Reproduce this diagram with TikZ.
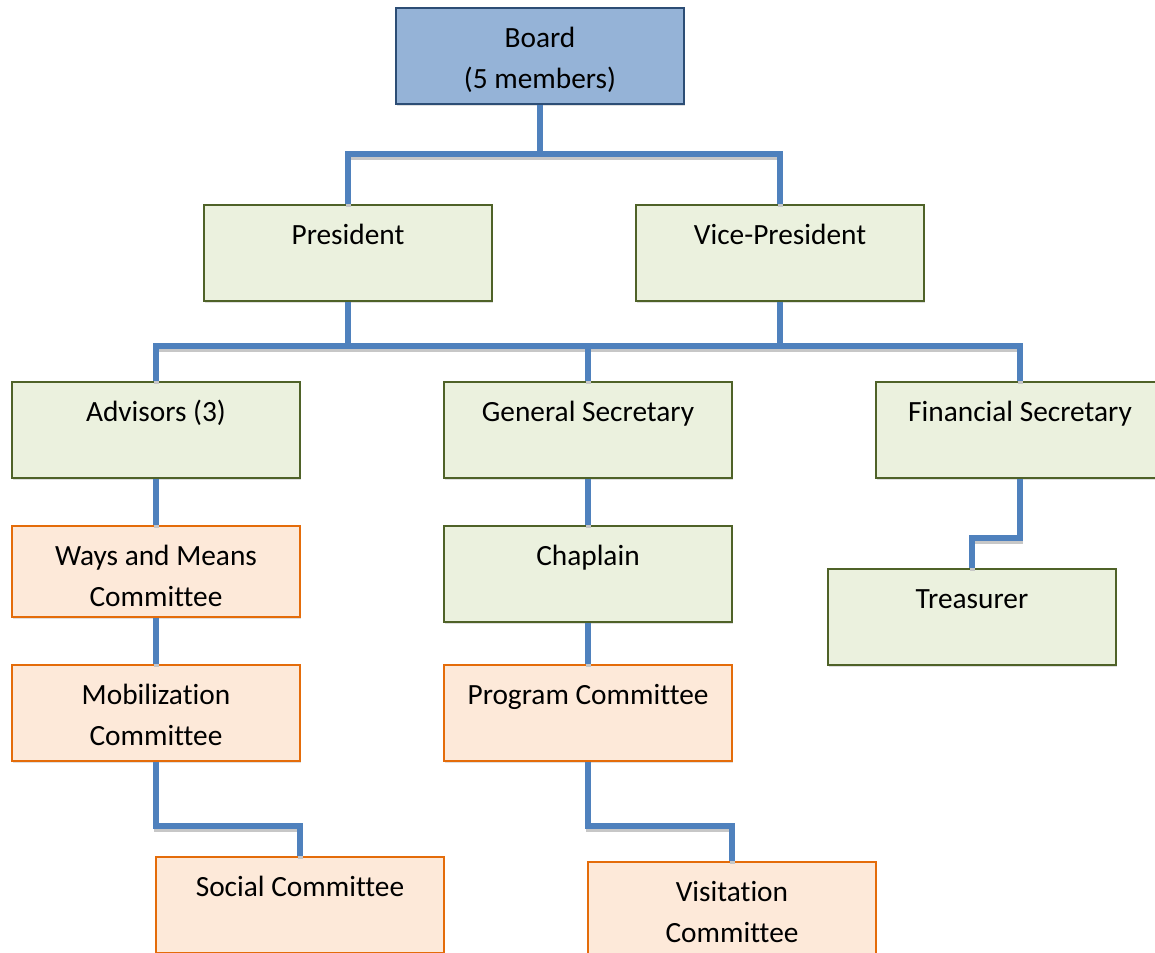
\documentclass[tikz,border=0pt]{standalone}
\usepackage{fontspec}
\setmainfont[Ligatures=NoCommon]{Carlito}
\usetikzlibrary{positioning,calc,shadows}

\definecolor{lineblue}{HTML}{4F81BD}
\definecolor{boardfill}{HTML}{95B3D7}
\definecolor{boarddraw}{HTML}{2C4D75}
\definecolor{greenfill}{HTML}{EBF1DE}
\definecolor{greendraw}{HTML}{4F6228}
\definecolor{orangefill}{HTML}{FDE9D9}
\definecolor{orangedraw}{HTML}{E46C0A}

\begin{document}
\begin{tikzpicture}[
    orgbox/.style={
        rectangle,
        line width=1.1pt,
        minimum width=5.76cm,
        minimum height=1.92cm,
        inner sep=0pt,
        align=center,
        font=\fontsize{16.7pt}{23.8pt}\selectfont,
        text height=22.1pt,
        text depth=32.3pt,
        drop shadow={shadow xshift=0.6pt, shadow yshift=-1.2pt, opacity=0.25}
    },
    twolines/.style={text height=45.9pt, text depth=8.5pt},
    boardbox/.style={orgbox, fill=boardfill, draw=boarddraw},
    officebox/.style={orgbox, fill=greenfill, draw=greendraw},
    commbox/.style={orgbox, fill=orangefill, draw=orangedraw},
    conn/.style={
        draw=lineblue,
        line width=3pt,
        preaction={draw=black!22, line width=3pt,
            transform canvas={shift={(0.4pt,-1.7pt)}}}
    }
]
    \useasboundingbox (0,0) rectangle (23.1,-19.06);

    % --- TOP ---
    \node[boardbox, twolines] (board) at (10.8,-1.12) {Board\\(5 members)};
    \node[officebox] (pres) at (6.96,-5.06) {President};
    \node[officebox] (vp) at (15.6,-5.06) {Vice-President};

    % --- SECOND ROW ---
    \node[officebox] (adv) at (3.12,-8.6) {Advisors (3)};
    \node[officebox] (gensec) at (11.76,-8.6) {General Secretary};
    \node[officebox] (finsec) at (20.4,-8.6) {Financial Secretary};

    % --- LEFT COLUMN ---
    \node[commbox, twolines, minimum height=1.82cm, text depth=5.7pt] (ways) at (3.12,-11.43) {Ways and Means\\Committee};
    \node[commbox, twolines] (mobil) at (3.12,-14.26) {Mobilization\\Committee};
    \node[commbox] (social) at (6.0,-18.1) {Social Committee};

    % --- MIDDLE COLUMN ---
    \node[officebox] (chap) at (11.76,-11.48) {Chaplain};
    \node[commbox] (prog) at (11.76,-14.26) {Program Committee};
    \node[commbox, twolines] (visit) at (14.64,-18.2) {Visitation\\Committee};

    % --- RIGHT COLUMN ---
    \node[officebox] (treas) at (19.44,-12.34) {Treasurer};

    % --- CONNECTORS ---
    \draw[conn] (board.south) -- ++(0,-0.98) -| (pres.north);
    \draw[conn] (board.south) -- ++(0,-0.98) -| (vp.north);

    \draw[conn] (pres.south) -- ++(0,-0.88) -| (adv.north);
    \draw[conn] (pres.south) -- ++(0,-0.88) -| (gensec.north);
    \draw[conn] (vp.south) -- ++(0,-0.88) -| (gensec.north);
    \draw[conn] (vp.south) -- ++(0,-0.88) -| (finsec.north);

    \draw[conn] (adv) -- (ways);
    \draw[conn] (ways) -- (mobil);
    \draw[conn] (mobil.south) -- ++(0,-1.28) -| (social.north);

    \draw[conn] (gensec) -- (chap);
    \draw[conn] (chap) -- (prog);
    \draw[conn] (prog.south) -- ++(0,-1.28) -| (visit.north);

    \draw[conn] (finsec.south) -- ++(0,-1.18) -| (treas.north);
\end{tikzpicture}
\end{document}
